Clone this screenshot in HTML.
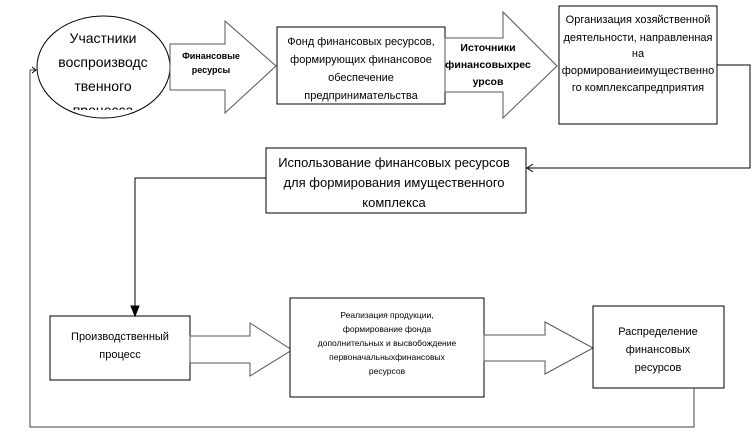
<!DOCTYPE html>
<html><head><meta charset="utf-8"><style>
body{margin:0;background:#fff}
svg text{font-family:"Liberation Sans","DejaVu Sans",sans-serif;fill:#000}
</style></head><body>
<svg width="755" height="437" viewBox="0 0 755 437" xmlns="http://www.w3.org/2000/svg">
<defs>
<clipPath id="ec"><rect x="37" y="7" width="133" height="103"/></clipPath>
</defs>
<g fill="#fff" stroke="#000" stroke-width="1">
<ellipse cx="103.5" cy="67" rx="66.5" ry="51"/>
<polygon points="170,44 225,44 225,21 276,66 225,113 225,90 170,90" stroke="#555"/>
<rect x="277" y="27" width="168" height="77"/>
<polygon points="445,38 503,38 503,12 557,66 503,118 503,92 445,92" stroke="#555"/>
<rect x="559" y="6" width="158" height="118"/>
<rect x="266" y="148" width="260" height="65"/>
<rect x="50" y="316" width="140" height="64"/>
<polygon points="190,336 250,336 250,323 292,350 250,376 250,363 190,363" stroke="#555"/>
<rect x="290" y="298" width="194" height="99"/>
<polygon points="484,335 545,335 545,322 593,348 545,374 545,361 484,361" stroke="#555"/>
<rect x="593" y="306" width="131" height="82"/>
</g>
<g fill="none" stroke="#000" stroke-width="1">
<polyline points="717,65 750,65 750,168 527,168"/>
<polyline points="533,164 527,168 533,172"/>
<polyline points="266,178 135,178 135,310"/>
<polygon points="131,306 139,306 135,316" fill="#000"/>
<polyline points="694,388 694,427 30,427 30,70 36,70" stroke="#444"/>
<polyline points="32,67 36,70 32,73"/>
</g>
<g clip-path="url(#ec)" font-size="14" text-anchor="middle">
<text x="103" y="43">Участники</text>
<text x="103" y="67">воспроизводс</text>
<text x="103" y="91">твенного</text>
<text x="103" y="115">процесса</text>
</g>
<g font-size="9" font-weight="bold" text-anchor="middle">
<text x="211" y="59">Финансовые</text>
<text x="211" y="73">ресурсы</text>
</g>
<g font-size="11" text-anchor="middle">
<text x="361" y="45">Фонд финансовых ресурсов,</text>
<text x="361" y="63">формирующих финансовое</text>
<text x="361" y="81">обеспечение</text>
<text x="361" y="99">предпринимательства</text>
</g>
<g font-size="10.5" font-weight="bold" text-anchor="middle">
<text x="488" y="51">Источники</text>
<text x="488" y="68">финансовыхрес</text>
<text x="488" y="85">урсов</text>
</g>
<g font-size="11" text-anchor="middle">
<text x="638" y="23">Организация хозяйственной</text>
<text x="638" y="41">деятельности, направленная</text>
<text x="638" y="57">на</text>
<text x="638" y="74">формированиеимущественно</text>
<text x="638" y="91">го комплексапредприятия</text>
</g>
<g font-size="13" text-anchor="middle">
<text x="394" y="167">Использование финансовых ресурсов</text>
<text x="394" y="187">для формирования имущественного</text>
<text x="394" y="207">комплекса</text>
</g>
<g font-size="11" text-anchor="middle">
<text x="120" y="340">Производственный</text>
<text x="120" y="358">процесс</text>
</g>
<g font-size="8.5" text-anchor="middle">
<text x="387" y="318">Реализация продукции,</text>
<text x="387" y="332">формирование фонда</text>
<text x="387" y="346">дополнительных и высвобождение</text>
<text x="387" y="360">первоначальныхфинансовых</text>
<text x="387" y="374">ресурсов</text>
</g>
<g font-size="11" text-anchor="middle">
<text x="658" y="335">Распределение</text>
<text x="658" y="353">финансовых</text>
<text x="658" y="371">ресурсов</text>
</g>
</svg>
</body></html>
